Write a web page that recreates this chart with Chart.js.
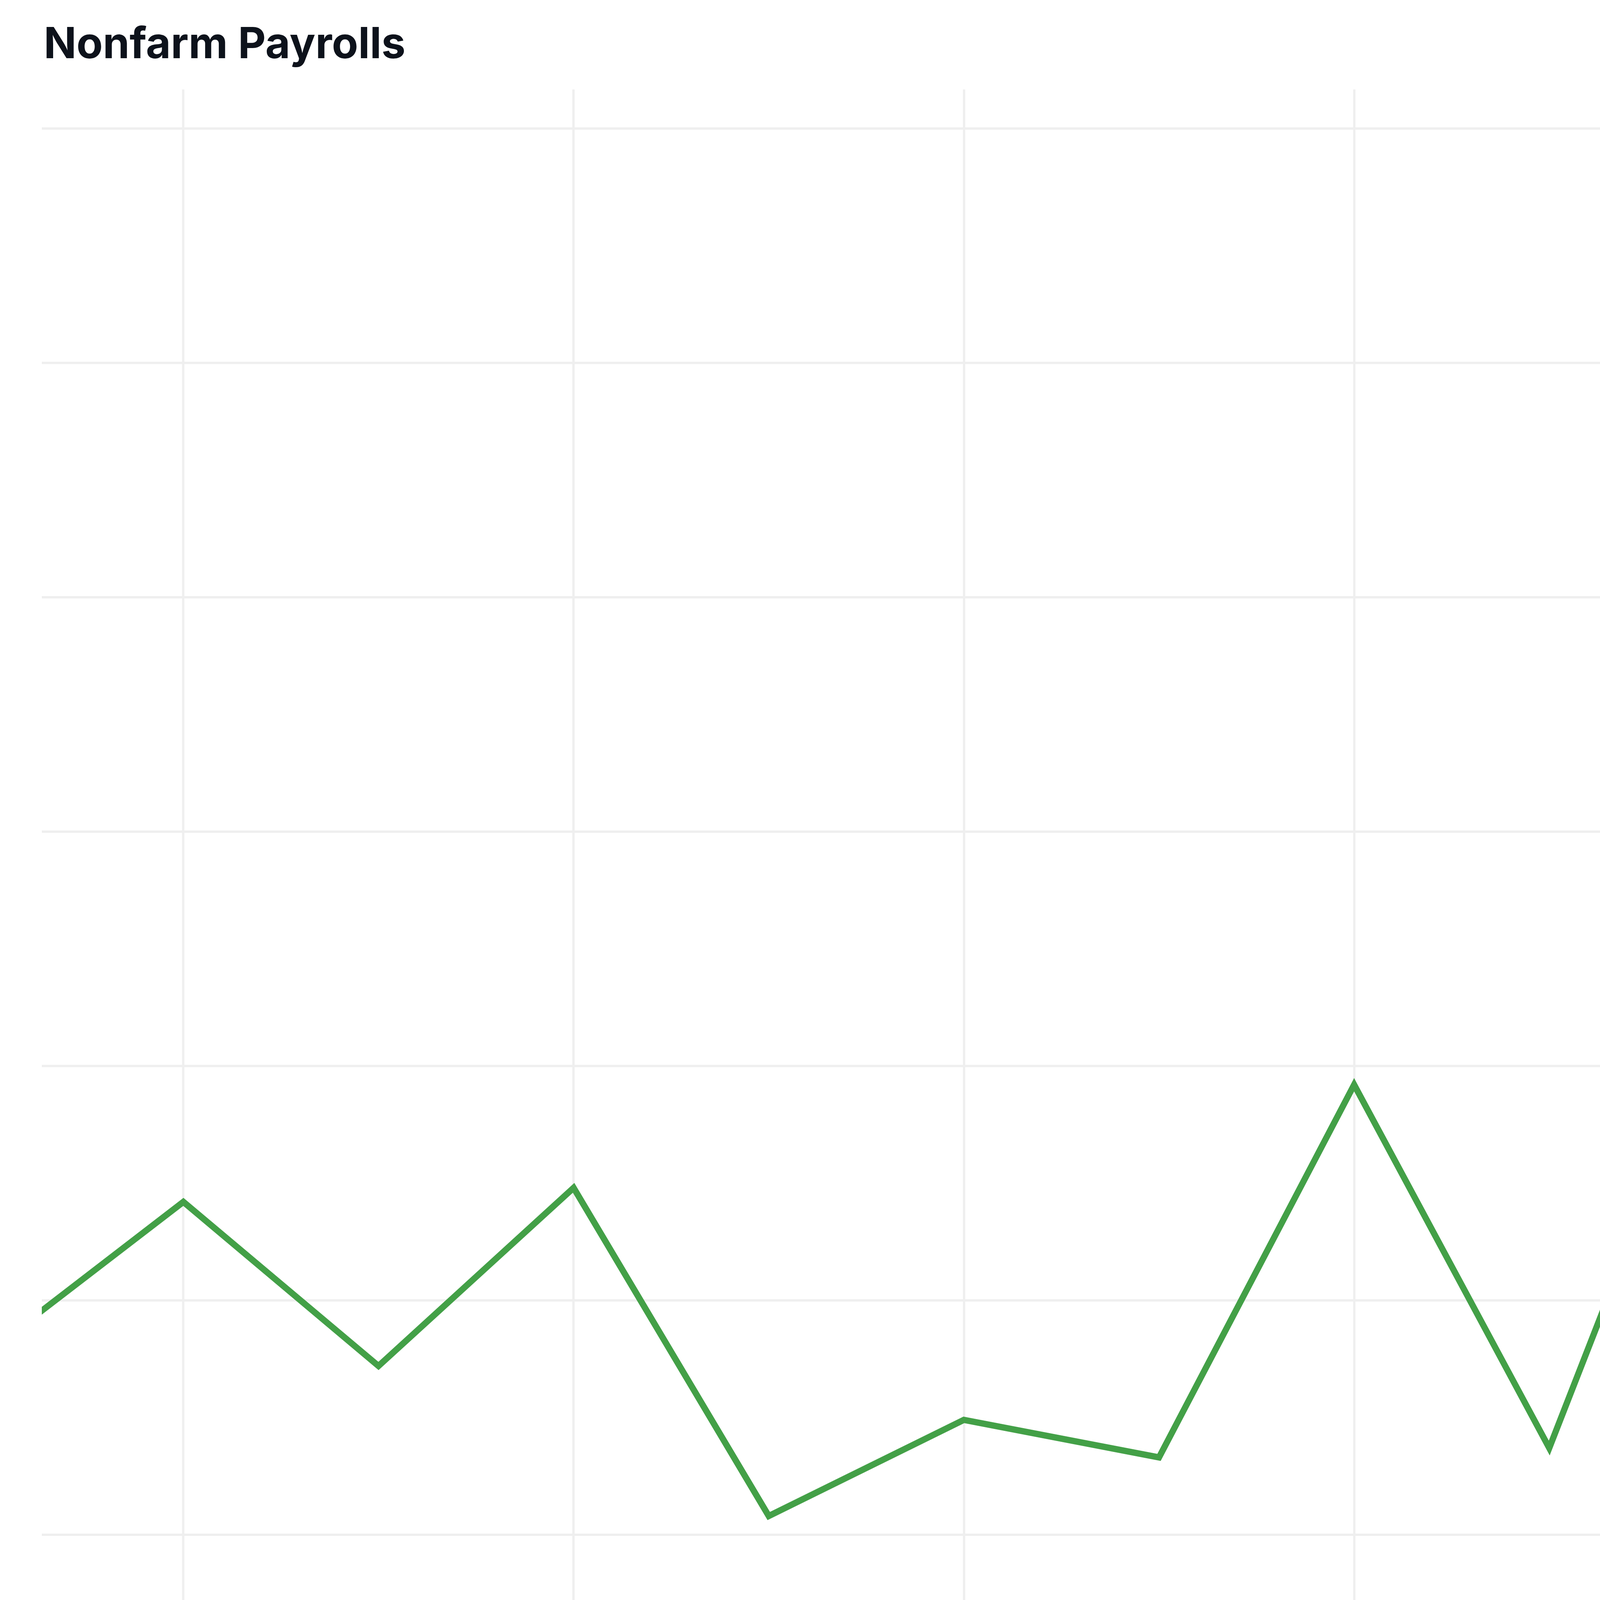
<!DOCTYPE html>
<html>
<head>
<meta charset="utf-8">
<script src="https://cdn.jsdelivr.net/npm/chart.js@4.4.1/dist/chart.umd.min.js"></script>
<style>
    html, body { margin: 0; padding: 0; background: #ffffff; }
    #page { position: relative; width: 7831px; height: 4629px; overflow: hidden; }
    .head { position: absolute; font-family: Inter, "Noto Sans", sans-serif; color: #0d121b; line-height: 1; white-space: nowrap; }
    #title { left: 112px; top: 54px; font-size: 110px; font-weight: 700; letter-spacing: 0; }
    #date { right: 112px; top: 67px; font-size: 95px; font-weight: 600; letter-spacing: -2px; }
    #wrap { position: absolute; left: 0; top: 0; width: 7831px; height: 4629px; }
</style>
</head>
<body>
<div id="page">
    <div id="title" class="head">Nonfarm Payrolls</div>
    <div id="date" class="head">2026-07-01</div>
    <div id="wrap"><canvas id="payrollChart"></canvas></div>
</div>
<script>
    // monthly readings, June 2025 .. July 2026 (thousands)
    var months = ['2025-06', '2025-07', '2025-08', '2025-09', '2025-10', '2025-11', '2025-12',
        '2026-01', '2026-02', '2026-03', '2026-04', '2026-05', '2026-06', '2026-07'];
    var payrolls = [158478, 158542, 158472, 158548, 158408, 158449, 158433,
        158592, 158437, 158650, 158798, 158861, 158881, 158858];

    // x ticks: every other month, by index into months
    var xTickIndex = [1, 3, 5, 7, 9, 11, 13];
    var xTickLabels = ['Jul', 'Sept', 'Nov', '2026', 'Mar', 'May', 'Jul'];
    var yTicks = [158400, 158500, 158600, 158700, 158800, 158900, 159000];

    var xMin = 0.2745, xMax = 13.527;
    var yMin = 158338, yMax = 159016.6;

    var monoFont = '"DejaVu Sans Mono", "Liberation Mono", monospace';
    var inkColor = '#0d121b';
    var gridColor = '#efefef';
    var axisColor = '#e4e4e4';

    var points = payrolls.map(function (v, i) {
        return {x: i, y: v};
    });

    var ctx = document.getElementById('payrollChart').getContext('2d');
    var chart = new Chart(ctx, {
        type: 'line',
        data: {
            datasets: [{
                label: 'Nonfarm Payrolls',
                data: points,
                borderColor: '#43a047',
                borderWidth: 16,
                pointRadius: 0,
                pointHoverRadius: 0,
                tension: 0,
                fill: false,
                clip: 0
            }]
        },
        options: {
            responsive: true,
            maintainAspectRatio: false,
            animation: false,
            events: [],
            layout: {
                padding: {left: 107, top: 229, right: 0, bottom: 0}
            },
            plugins: {
                legend: {display: false},
                tooltip: {enabled: false}
            },
            scales: {
                x: {
                    type: 'linear',
                    min: xMin,
                    max: xMax,
                    afterBuildTicks: function (scale) {
                        scale.ticks = xTickIndex.map(function (v) {
                            return {value: v};
                        });
                    },
                    afterFit: function (scale) {
                        scale.height = 4629 - 4301;
                    },
                    grid: {
                        color: gridColor,
                        lineWidth: 6,
                        drawTicks: false
                    },
                    border: {display: true, color: axisColor, width: 7},
                    ticks: {
                        padding: 73,
                        color: inkColor,
                        maxRotation: 0,
                        autoSkip: false,
                        font: function (c) {
                            var bold = c.tick && xTickIndex.indexOf(c.tick.value) === 3;
                            return {family: monoFont, size: 136, weight: bold ? 'bold' : 'normal'};
                        },
                        callback: function (value) {
                            var k = xTickIndex.indexOf(value);
                            return k >= 0 ? xTickLabels[k] : '';
                        }
                    }
                },
                y: {
                    position: 'right',
                    min: yMin,
                    max: yMax,
                    afterBuildTicks: function (scale) {
                        scale.ticks = yTicks.map(function (v) {
                            return {value: v};
                        });
                    },
                    afterFit: function (scale) {
                        scale.width = 7831 - 6727;
                    },
                    grid: {
                        color: gridColor,
                        lineWidth: 6,
                        drawTicks: false
                    },
                    border: {display: true, color: axisColor, width: 7},
                    ticks: {
                        padding: 108,
                        labelOffset: 10,
                        color: inkColor,
                        font: {family: monoFont, size: 140},
                        callback: function (value) {
                            return Number(value).toFixed(2);
                        }
                    }
                }
            }
        }
    });
</script>
</body>
</html>
